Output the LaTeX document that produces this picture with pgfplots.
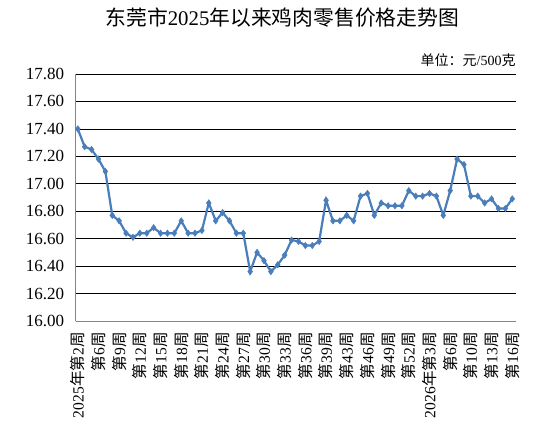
\documentclass[border=0pt]{standalone}
\usepackage{fontspec}
\setmainfont{Liberation Serif}
\newfontfamily\cjk{Noto Sans CJK SC}
\newcommand{\zh}[1]{{\cjk #1}}
\usepackage{pgfplots}
\pgfplotsset{compat=1.18}
\definecolor{lineblue}{RGB}{74,126,187}
\definecolor{axisgray}{RGB}{134,134,134}
\begin{document}
\begin{tikzpicture}
\useasboundingbox (-75.7pt,-113pt) rectangle (475.3pt,321pt);
\begin{axis}[
  at={(0,0)}, anchor=south west,
  scale only axis, width=440pt, height=247pt,
  xmin=-0.3, xmax=63.5, ymin=16, ymax=17.8,
  ytick={16,16.2,...,17.8},
  yticklabel style={font=\fontsize{17}{17}\selectfont, xshift=-8pt, /pgf/number format/.cd, fixed, fixed zerofill, precision=2},
  /pgf/number format/assume math mode=true,
  ymajorgrids, grid style={black, line width=0.6pt},
  axis lines=left, axis line style={axisgray, line width=0.8pt, -},
  major tick length=0pt,
  xtick={0,3,...,63},
  xticklabels={2025\zh{年第}2\zh{周}, \zh{第}6\zh{周}, \zh{第}9\zh{周}, \zh{第}12\zh{周}, \zh{第}15\zh{周}, \zh{第}18\zh{周}, \zh{第}21\zh{周}, \zh{第}24\zh{周}, \zh{第}27\zh{周}, \zh{第}30\zh{周}, \zh{第}33\zh{周}, \zh{第}36\zh{周}, \zh{第}39\zh{周}, \zh{第}43\zh{周}, \zh{第}46\zh{周}, \zh{第}49\zh{周}, \zh{第}52\zh{周}, 2026\zh{年第}3\zh{周}, \zh{第}6\zh{周}, \zh{第}10\zh{周}, \zh{第}13\zh{周}, \zh{第}16\zh{周}},
  xticklabel style={rotate=90, anchor=east, font=\fontsize{15.6}{15.6}\selectfont, inner sep=1pt},
  xticklabel shift=10pt,
  clip=false,
]
\addplot[lineblue, line width=2.2pt, mark=diamond*, mark size=3.2pt, mark options={fill=lineblue, draw=lineblue, line width=0.5pt}] coordinates {
(0,17.40) (1,17.27) (2,17.25) (3,17.18) (4,17.09) (5,16.77) (6,16.73) (7,16.64)
(8,16.61) (9,16.64) (10,16.64) (11,16.68) (12,16.64) (13,16.64) (14,16.64) (15,16.73)
(16,16.64) (17,16.64) (18,16.66) (19,16.86) (20,16.73) (21,16.79) (22,16.73) (23,16.64)
(24,16.64) (25,16.36) (26,16.50) (27,16.44) (28,16.36) (29,16.41) (30,16.48) (31,16.59)
(32,16.58) (33,16.55) (34,16.55) (35,16.58) (36,16.88) (37,16.73) (38,16.73) (39,16.77)
(40,16.73) (41,16.91) (42,16.93) (43,16.77) (44,16.86) (45,16.84) (46,16.84) (47,16.84)
(48,16.95) (49,16.91) (50,16.91) (51,16.93) (52,16.91) (53,16.77) (54,16.95) (55,17.18)
(56,17.14) (57,16.91) (58,16.91) (59,16.86) (60,16.89) (61,16.82) (62,16.82) (63,16.89)
};
\end{axis}
\node[font=\cjk\fontsize{20.8}{20.8}\selectfont] at (206.5pt,303pt) {东莞市{\rmfamily 2025}年以来鸡肉零售价格走势图};
\node[anchor=east, inner sep=0pt, font=\fontsize{14}{14}\selectfont] at (440pt,261pt) {\zh{单位：元}/500\zh{克}};
\end{tikzpicture}
\end{document}
